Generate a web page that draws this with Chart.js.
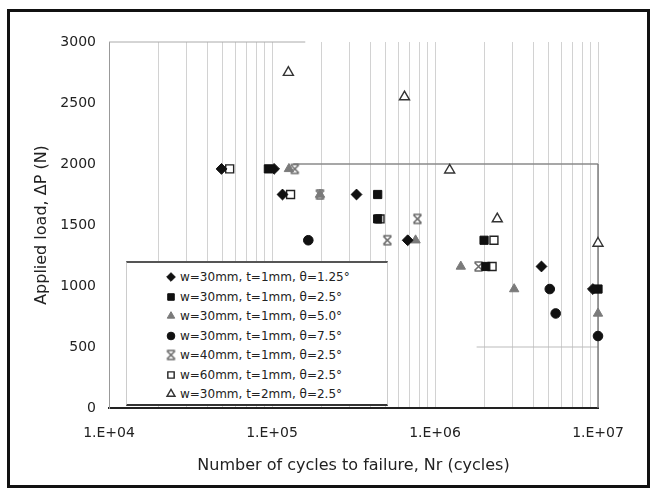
<!DOCTYPE html>
<html>
<head>
<meta charset="utf-8">
<script src="https://cdn.jsdelivr.net/npm/chart.js@4.4.1/dist/chart.umd.min.js"></script>
<style>
  html, body { margin:0; padding:0; background:#fff; }
  #wrap { position:relative; width:658px; height:489px; overflow:hidden; background:#fff; }
  #c { position:absolute; left:0; top:0; }
  #frame { position:absolute; left:7px; top:9px; width:643px; height:479px; box-sizing:border-box; border:3px solid #111; pointer-events:none; }
  #legend { position:absolute; left:126px; top:261px; width:262px; height:145px; box-sizing:border-box; background:#fff;
            border-top:2px solid #555; border-bottom:2px solid #333; border-left:1px solid #ccc; border-right:1px solid #ccc;
            font-family:'DejaVu Sans', sans-serif; font-size:12px; color:#222; }
  .row { position:absolute; left:0; height:16px; line-height:16px; white-space:nowrap; }
  .row canvas { position:absolute; left:36px; top:0; }
  .row span { position:absolute; left:53px; top:0; }
</style>
</head>
<body>
<div id="wrap">
  <canvas id="c" width="658" height="489"></canvas>
  <div id="legend"></div>
  <div id="frame"></div>
</div>
<script>
// ---- data (cycles, load in N) ----
const seriesNames = [
  'w=30mm, t=1mm, θ=1.25°',
  'w=30mm, t=1mm, θ=2.5°',
  'w=30mm, t=1mm, θ=5.0°',
  'w=30mm, t=1mm, θ=7.5°',
  'w=40mm, t=1mm, θ=2.5°',
  'w=60mm, t=1mm, θ=2.5°',
  'w=30mm, t=2mm, θ=2.5°'
];
const cyclesT1_125 = [4.9e4, 1.03e5, 1.16e5, 3.3e5, 6.8e5, 4.5e6, 9.3e6];
const loadT1_125   = [1960, 1960, 1750, 1750, 1375, 1160, 975];
const cyclesT1_25  = [9.5e4, 4.45e5, 4.45e5, 2.0e6, 2.05e6, 1.0e7];
const loadT1_25    = [1960, 1750, 1550, 1375, 1160, 975];
const cyclesT1_50  = [1.27e5, 1.97e5, 7.6e5, 1.44e6, 3.06e6, 1.0e7];
const loadT1_50    = [1960, 1750, 1375, 1160, 975, 775];
const cyclesT1_75  = [1.67e5, 5.06e6, 5.5e6, 1.0e7];
const loadT1_75    = [1375, 975, 775, 590];
const cyclesW40    = [1.38e5, 1.97e5, 5.1e5, 7.8e5, 1.85e6];
const loadW40      = [1960, 1750, 1375, 1550, 1160];
const cyclesW60    = [5.5e4, 1.3e5, 4.6e5, 2.3e6, 2.24e6];
const loadW60      = [1960, 1750, 1550, 1375, 1160];
const cyclesT2     = [1.26e5, 6.5e5, 1.23e6, 2.41e6, 1.0e7];
const loadT2       = [2750, 2550, 1950, 1550, 1350];

const xTickLabels = ['1.E+04', '1.E+05', '1.E+06', '1.E+07'];
const xDecades = [1e4, 1e5, 1e6, 1e7];
const yTicks = [0, 500, 1000, 1500, 2000, 2500, 3000];

// ---- marker for the "star" series ----
function makeStar() {
  const cv = document.createElement('canvas');
  cv.width = 13; cv.height = 13;
  const g = cv.getContext('2d');
  g.strokeStyle = '#6a6a6a'; g.lineWidth = 1.6;
  g.beginPath();
  g.moveTo(2.5, 2.5); g.lineTo(10.5, 10.5);
  g.moveTo(10.5, 2.5); g.lineTo(2.5, 10.5);
  g.moveTo(2.5, 2); g.lineTo(10.5, 2);
  g.moveTo(2.5, 11); g.lineTo(10.5, 11);
  g.stroke();
  return cv;
}
const starImg = makeStar();

function pts(xs, ys) { return xs.map((x, i) => ({ x: x, y: ys[i] })); }

const styles = [
  { pointStyle: 'rectRot',  pointRadius: 5.4, pointBackgroundColor: '#111', pointBorderColor: '#111', pointBorderWidth: 1 },
  { pointStyle: 'rect',     pointRadius: 5.8, pointBackgroundColor: '#111', pointBorderColor: '#111', pointBorderWidth: 1 },
  { pointStyle: 'triangle', pointRadius: 5.4, pointBackgroundColor: '#7a7a7a', pointBorderColor: '#7a7a7a', pointBorderWidth: 1 },
  { pointStyle: 'circle',   pointRadius: 4.8, pointBackgroundColor: '#111', pointBorderColor: '#111', pointBorderWidth: 1 },
  { pointStyle: starImg,    pointRadius: 6,   pointBackgroundColor: '#6a6a6a', pointBorderColor: '#6a6a6a', pointBorderWidth: 1 },
  { pointStyle: 'rect',     pointRadius: 5.6, pointBackgroundColor: '#fff', pointBorderColor: '#222', pointBorderWidth: 1.4 },
  { pointStyle: 'triangle', pointRadius: 5.8, pointBackgroundColor: '#fff', pointBorderColor: '#333', pointBorderWidth: 1.4 }
];
const allData = [
  pts(cyclesT1_125, loadT1_125),
  pts(cyclesT1_25, loadT1_25),
  pts(cyclesT1_50, loadT1_50),
  pts(cyclesT1_75, loadT1_75),
  pts(cyclesW40, loadW40),
  pts(cyclesW60, loadW60),
  pts(cyclesT2, loadT2)
];
const datasets = seriesNames.map((n, i) => Object.assign({ label: n, data: allData[i], showLine: false, clip: false }, styles[i]));

// grid values at 1..9 x 10^n
const xGrid = [];
for (let e = 4; e < 7; e++) for (let k = 1; k <= 9; k++) xGrid.push(k * Math.pow(10, e));
xGrid.push(1e7);

const extraLines = {
  id: 'extraLines',
  beforeDatasetsDraw(chart) {
    const { ctx, scales: { x, y } } = chart;
    function seg(x1, y1, x2, y2, col, w) {
      ctx.save(); ctx.strokeStyle = col; ctx.lineWidth = w;
      ctx.beginPath(); ctx.moveTo(x.getPixelForValue(x1), y.getPixelForValue(y1));
      ctx.lineTo(x.getPixelForValue(x2), y.getPixelForValue(y2)); ctx.stroke(); ctx.restore();
    }
    seg(1e4, 3000, 1.6e5, 3000, '#aaa', 1);
    seg(1.35e5, 2000, 1e7, 2000, '#8a8a8a', 1.6);
    seg(1.8e6, 500, 1e7, 500, '#bbb', 1);
    seg(1e7, 2000, 1e7, 0, '#777', 1.4);
  }
};

const font = { family: "'DejaVu Sans', sans-serif" };
new Chart(document.getElementById('c'), {
  type: 'scatter',
  data: { datasets: datasets },
  plugins: [extraLines],
  options: {
    responsive: false, animation: false, devicePixelRatio: 1,
    layout: { padding: { left: 0, top: 42, right: 60, bottom: 0 } },
    plugins: { legend: { display: false }, tooltip: { enabled: false } },
    scales: {
      x: {
        type: 'logarithmic', min: 1e4, max: 1e7,
        afterBuildTicks(s) { s.ticks = xGrid.map(v => ({ value: v })); },
        afterFit(s) { s.height = 81; },
        ticks: {
          autoSkip: false, maxRotation: 0, minRotation: 0, padding: 17, color: '#222',
          font: Object.assign({ size: 14 }, font),
          callback(v) { const i = xDecades.indexOf(v); return i >= 0 ? xTickLabels[i] : ''; }
        },
        grid: { color: '#d2d2d2', lineWidth: 1, drawTicks: false },
        border: { color: '#222', width: 2 },
        title: { display: true, text: 'Number of cycles to failure, Nr (cycles)', color: '#222',
                 font: Object.assign({ size: 16 }, font), padding: { top: 0, bottom: 14 } }
      },
      y: {
        min: 0, max: 3000,
        afterBuildTicks(s) { s.ticks = yTicks.map(v => ({ value: v })); },
        afterFit(s) { s.width = 109; },
        ticks: { padding: 13, color: '#222', font: Object.assign({ size: 14 }, font),
                 callback(v) { return String(v); } },
        grid: { display: false, drawTicks: false },
        border: { color: '#999', width: 1 },
        title: { display: true, text: 'Applied load, ΔP (N)', color: '#222',
                 font: Object.assign({ size: 16 }, font), padding: { top: 32, bottom: 0 } }
      }
    }
  }
});

// ---- HTML legend inside the plot ----
const leg = document.getElementById('legend');
const rowTops = [6, 25.5, 45, 64.5, 84, 103.5, 123];
seriesNames.forEach((n, i) => {
  const r = document.createElement('div');
  r.className = 'row'; r.style.top = rowTops[i] + 'px';
  const cv = document.createElement('canvas'); cv.width = 16; cv.height = 16;
  const g = cv.getContext('2d');
  const st = styles[i];
  g.fillStyle = st.pointBackgroundColor; g.strokeStyle = st.pointBorderColor; g.lineWidth = st.pointBorderWidth;
  Chart.helpers.drawPoint(g, { pointStyle: st.pointStyle, radius: st.pointRadius * 0.8, rotation: 0, borderWidth: st.pointBorderWidth }, 8, 8);
  const sp = document.createElement('span'); sp.textContent = n;
  r.appendChild(cv); r.appendChild(sp); leg.appendChild(r);
});
</script>
</body>
</html>
